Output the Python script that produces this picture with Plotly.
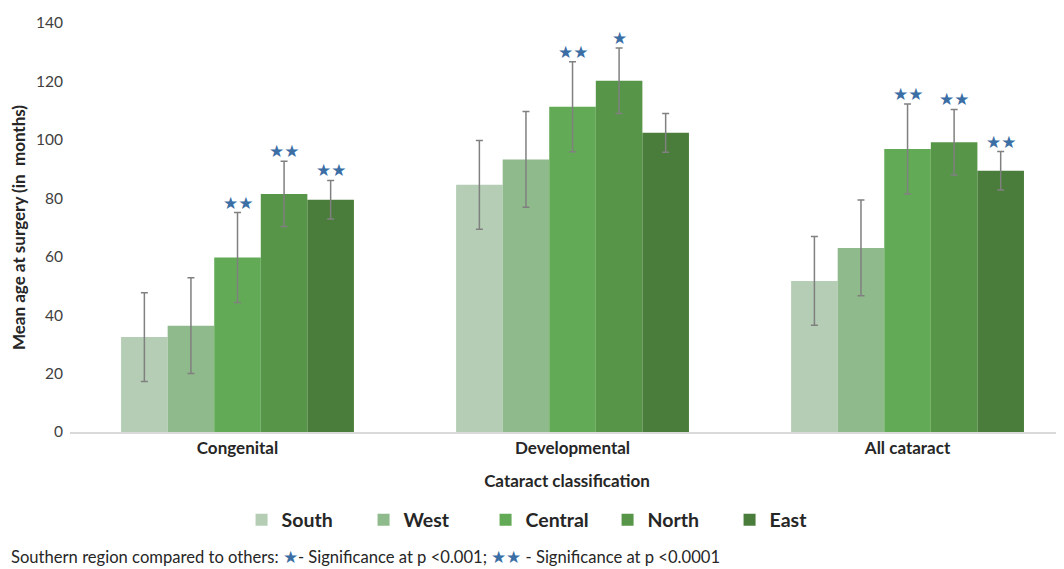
import plotly.graph_objects as go

categories = ["Congenital", "Developmental", "All cataract"]
series = ["South", "West", "Central", "North", "East"]
colors = ["#b4cdb4", "#8fba8b", "#62aa55", "#579548", "#4a7c3b"]

south = [32.5, 84.6, 51.7]
west = [36.4, 93.3, 63.0]
central = [59.7, 111.3, 96.9]
north = [81.5, 120.2, 99.2]
east = [79.5, 102.4, 89.4]

south_err = [15.2, 15.2, 15.2]
west_err = [16.4, 16.4, 16.4]
central_err = [15.4, 15.4, 15.4]
north_err = [11.2, 11.2, 11.2]
east_err = [6.6, 6.6, 6.6]

# significance marks per series per category
south_sig = ["", "", ""]
west_sig = ["", "", ""]
central_sig = ["★★", "★★", "★★"]
north_sig = ["★★", "★", "★★"]
east_sig = ["★★", "", "★★"]

values = [south, west, central, north, east]
errors = [south_err, west_err, central_err, north_err, east_err]
sigs = [south_sig, west_sig, central_sig, north_sig, east_sig]

FONT = "Lato, 'Open Sans', sans-serif"
STAR = "#3b6ea5"
BARGAP = 0.305

# page body adds an 8px offset, so the figure is sized to fill the rest
W, H = 1056, 561
ML, MR, MT, MB = 62, 0, 15, 137
PW, PH = W - ML - MR, H - MT - MB

fig = go.Figure()
for name, col, v, e in zip(series, colors, values, errors):
    fig.add_trace(go.Bar(
        name=name, x=categories, y=v, marker=dict(color=col, line=dict(width=0)),
        error_y=dict(type="data", array=e, visible=True, color="#808080",
                     thickness=1.5, width=3.5),
    ))

n = len(series)
bw = (1 - BARGAP) / n
annotations = []
for i, (v, e, s) in enumerate(zip(values, errors, sigs)):
    for ci, cat in enumerate(categories):
        if s[ci]:
            annotations.append(dict(
                x=ci + (i - (n - 1) / 2) * bw, y=v[ci] + e[ci], xref="x", yref="y",
                text=s[ci], showarrow=False, yanchor="bottom", yshift=-2,
                font=dict(family="DejaVu Sans", size=17, color=STAR),
            ))

annotations.append(dict(
    xref="paper", yref="paper", x=-61 / PW, y=(PH - (549 - MT)) / PH, xanchor="left", yanchor="middle",
    showarrow=False,
    text=("Southern region compared to others: <span style='color:%s'>★</span>- Significance at p &lt;0.001; "
          "<span style='color:%s'>★★</span> - Significance at p &lt;0.0001") % (STAR, STAR),
    font=dict(family=FONT, size=16.6, color="#262626"),
))

fig.update_layout(
    width=W, height=H,
    margin=dict(l=ML, r=MR, t=MT, b=MB, autoexpand=False),
    paper_bgcolor="white", plot_bgcolor="white",
    barmode="group", bargap=BARGAP, bargroupgap=0,
    font=dict(family=FONT, color="#404040"),
    xaxis=dict(
        range=[-0.5, 2.467], showgrid=False, showline=True, linecolor="#d9d9d9", linewidth=1.5,
        ticks="", tickfont=dict(family=FONT, size=17, color="#262626", weight="bold"),
        title=dict(text="<b>Cataract classification</b>", font=dict(family=FONT, size=17, color="#262626"),
                   standoff=18),
    ),
    yaxis=dict(
        range=[0, 140], dtick=20, showgrid=False, zeroline=False, showline=False, ticks="",
        tickfont=dict(family=FONT, size=15.5, color="#404040"), ticklabelstandoff=6,
        title=dict(text="<b>Mean age at surgery (in  months)</b>", font=dict(family=FONT, size=17, color="#262626"),
                   standoff=8),
    ),
    legend=dict(
        orientation="h", xref="container", x=0.51, xanchor="center", yref="container", y=1 - 512 / H,
        yanchor="middle", itemwidth=30, entrywidth=77,
        font=dict(family=FONT, size=19.5, color="#262626", weight="bold"),
    ),
    annotations=annotations,
)

fig.write_html("out.html")
